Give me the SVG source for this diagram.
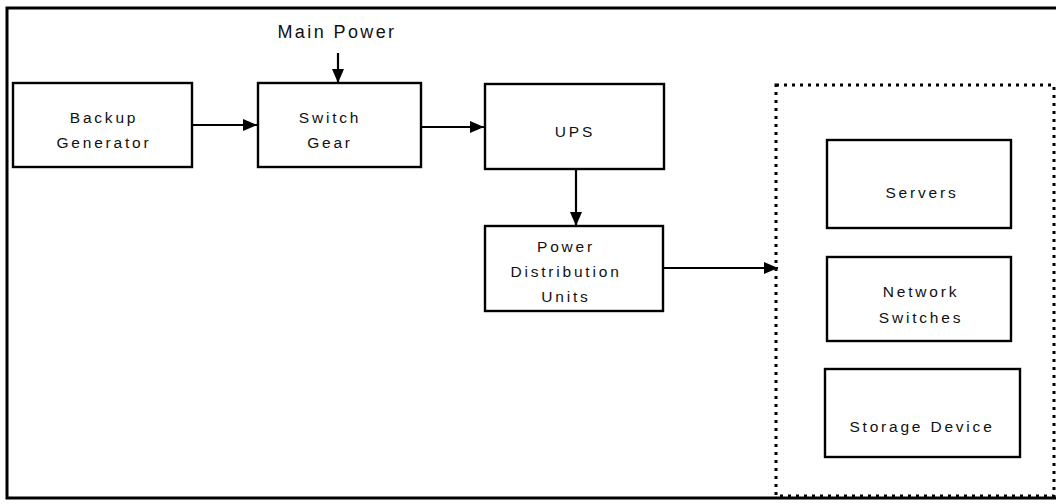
<svg xmlns="http://www.w3.org/2000/svg" width="1056" height="504" viewBox="0 0 1056 504">
<defs>
<style>
.box{fill:#fff;stroke:#000;stroke-width:2.4}
.t{font-family:"Liberation Sans",Arial,sans-serif;font-size:15.5px;letter-spacing:2.8px;fill:#111;text-anchor:middle}
.big{font-size:18px;letter-spacing:2.4px}
.c{stroke:#000;stroke-width:2.2;fill:none}
</style>
<marker id="ah" viewBox="0 0 14 12" refX="14" refY="6" markerWidth="14" markerHeight="12" markerUnits="userSpaceOnUse" orient="auto">
<path d="M0,0 L14,6 L0,12 Z" fill="#000"/>
</marker>
</defs>
<rect width="1056" height="504" fill="#fff"/>
<path d="M1056,8 H7 V498 H1056" fill="none" stroke="#000" stroke-width="3"/>
<g id="main-power"><text class="t big" x="337" y="38">Main Power</text></g>
<g id="backup-generator"><rect class="box" x="13" y="83" width="179" height="84"/><text class="t" x="104" y="123">Backup</text><text class="t" x="104" y="148">Generator</text></g>
<g id="switch-gear"><rect class="box" x="258" y="83" width="163" height="84"/><text class="t" x="330" y="123">Switch</text><text class="t" x="330" y="148">Gear</text></g>
<g id="ups"><rect class="box" x="485" y="84" width="179" height="85"/><text class="t" x="575" y="137">UPS</text></g>
<g id="pdu"><rect class="box" x="485" y="226" width="178" height="85"/><text class="t" x="566" y="252">Power</text><text class="t" x="566" y="277">Distribution</text><text class="t" x="566" y="302">Units</text></g>
<g id="equipment-group"><rect x="776" y="85" width="278" height="411" fill="none" stroke="#000" stroke-width="3" stroke-dasharray="3 5"/></g>
<g id="servers"><rect class="box" x="827" y="140" width="184" height="88"/><text class="t" x="922" y="198">Servers</text></g>
<g id="network-switches"><rect class="box" x="827" y="257" width="184" height="84"/><text class="t" x="921" y="297">Network</text><text class="t" x="921" y="323">Switches</text></g>
<g id="storage-device"><rect class="box" x="825" y="369" width="195" height="88"/><text class="t" x="922" y="432">Storage Device</text></g>
<g id="connectors">
<line class="c" x1="338" y1="53" x2="338" y2="83" marker-end="url(#ah)"/>
<line class="c" x1="192" y1="125" x2="257" y2="125" marker-end="url(#ah)"/>
<line class="c" x1="421" y1="127" x2="484" y2="127" marker-end="url(#ah)"/>
<line class="c" x1="576" y1="169" x2="576" y2="226" marker-end="url(#ah)"/>
<line class="c" x1="663" y1="268" x2="778" y2="268" marker-end="url(#ah)"/>
</g>
</svg>
